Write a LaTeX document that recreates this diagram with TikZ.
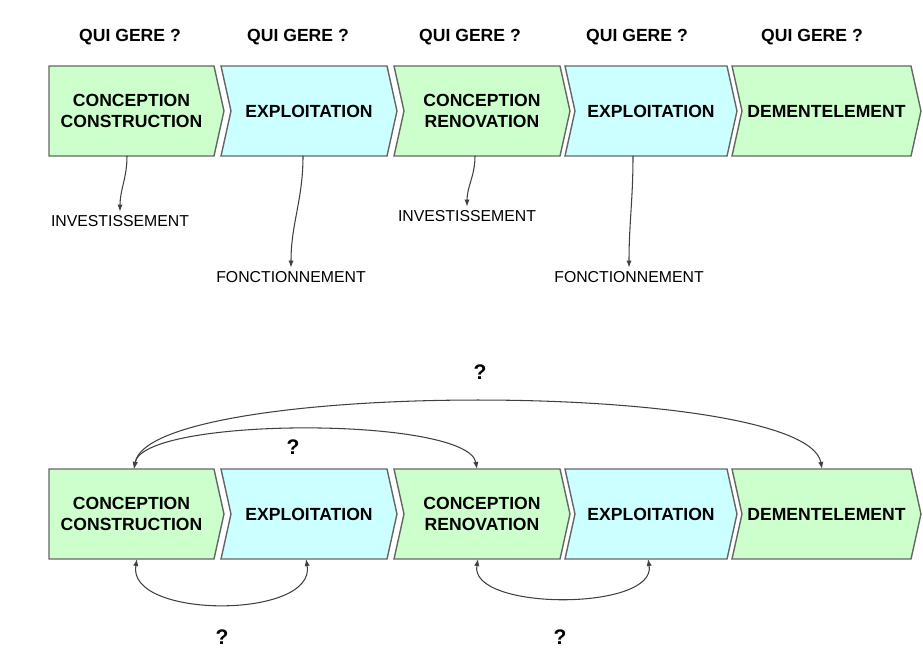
\documentclass[tikz,border=0pt]{standalone}
\usepackage{fontspec}
\setmainfont{Liberation Sans}
\usepackage{tikz}
\usetikzlibrary{arrows.meta}
\usetikzlibrary{calc}
\usetikzlibrary{shapes}

\definecolor{phasegreen}{HTML}{CCFFCC}
\definecolor{phaseblue}{HTML}{CCFFFF}

\begin{document}
\begin{tikzpicture}[x=0.02cm, y=0.02cm, >={Latex[length=4pt,width=3pt]},
        phase_style/.style={signal, signal to=east, signal from=west, signal pointer angle=155,
          draw=black!60, line width=0.8pt, minimum height=1.8cm, minimum width=3.52cm,
          inner sep=0pt, outer sep=0pt, align=center, font=\bfseries\fontsize{10}{12}\selectfont},
        first_style/.style={phase_style, signal from=nowhere, minimum width=3.5cm},
        green_style/.style={fill=phasegreen},
        blue_style/.style={fill=phaseblue},
        head_style/.style={font=\bfseries\fontsize{10}{12}\selectfont},
        cost_style/.style={font=\fontsize{9}{11}\selectfont, inner sep=2pt},
        ask_style/.style={font=\bfseries\fontsize{12}{14}\selectfont},
        edge_style/.style={draw=black!75, line width=0.6pt, ->},
        both_style/.style={draw=black!75, line width=0.6pt, <->}]

        \useasboundingbox (0,0) rectangle (923,669);

        % top row
        \node [first_style, green_style](p1) at (131.5,558) {CONCEPTION\\CONSTRUCTION};
        \node [phase_style, blue_style](p2) at (309,558) {EXPLOITATION};
        \node [phase_style, green_style](p3) at (482,558) {CONCEPTION\\RENOVATION};
        \node [phase_style, blue_style, minimum width=3.44cm](p4) at (651,558) {EXPLOITATION};
        \node [phase_style, green_style, minimum width=3.78cm](p5) at (826.5,558) {DEMENTELEMENT};

        \node [head_style](g1) at (130,632) {QUI GERE ?};
        \node [head_style](g2) at (298,632) {QUI GERE ?};
        \node [head_style](g3) at (470,632) {QUI GERE ?};
        \node [head_style](g4) at (637,632) {QUI GERE ?};
        \node [head_style](g5) at (812,632) {QUI GERE ?};

        \node [cost_style](l1) at (120,448) {INVESTISSEMENT};
        \node [cost_style](l2) at (291,392) {FONCTIONNEMENT};
        \node [cost_style](l3) at (467,453) {INVESTISSEMENT};
        \node [cost_style](l4) at (629,392) {FONCTIONNEMENT};

        \draw [edge_style] ($(p1.south)+(-4.5,0)$) to[out=-90, in=90] (l1.north);
        \draw [edge_style] ($(p2.south)+(-6,0)$) to[out=-90, in=90] (l2.north);
        \draw [edge_style] ($(p3.south)+(-7,0)$) to[out=-90, in=90] (l3.north);
        \draw [edge_style] ($(p4.south)+(-18,0)$) to[out=-90, in=90] (l4.north);

        % bottom row
        \node [first_style, green_style](q1) at (131.5,155) {CONCEPTION\\CONSTRUCTION};
        \node [phase_style, blue_style](q2) at (309,155) {EXPLOITATION};
        \node [phase_style, green_style](q3) at (482,155) {CONCEPTION\\RENOVATION};
        \node [phase_style, blue_style, minimum width=3.44cm](q4) at (651,155) {EXPLOITATION};
        \node [phase_style, green_style, minimum width=3.78cm](q5) at (826.5,155) {DEMENTELEMENT};

        \node [ask_style](m1) at (480,297) {?};
        \node [ask_style](m2) at (293,222) {?};
        \node [ask_style](m3) at (222,32) {?};
        \node [ask_style](m4) at (560,32) {?};

        \draw [both_style] ($(q1.north)+(2.5,0)$) to[out=80, in=100, looseness=0.34] ($(q5.north)+(-4.5,0)$);
        \draw [both_style] ($(q1.north)+(2.5,0)$) to[out=80, in=100, looseness=0.4] ($(q3.north)+(-5,0)$);
        \draw [both_style] ($(q1.south)+(5.5,0)$) to[out=-100, in=-80, looseness=0.93] ($(q2.south)+(-3,0)$);
        \draw [both_style] ($(q3.south)+(-4,0)$) to[out=-100, in=-80, looseness=0.8] ($(q4.south)+(-3,0)$);

        \end{tikzpicture}
\end{document}
